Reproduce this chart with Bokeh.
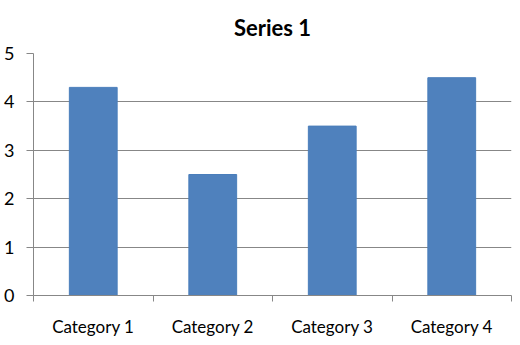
from bokeh.plotting import figure
from bokeh.models import FixedTicker, Range1d, ColumnDataSource
from bokeh.embed import file_html
from bokeh.resources import INLINE

categories = ["Category 1", "Category 2", "Category 3", "Category 4"]
values = [4.3, 2.5, 3.5, 4.5]
y_ticks = [0, 1, 2, 3, 4, 5]
title_text = "Series 1"

xs = [i + 0.5 for i in range(len(categories))]
src = ColumnDataSource(dict(x=xs, top=values, cat=categories))

p = figure(width=520, height=345, output_backend="svg", toolbar_location=None,
           x_range=Range1d(0, len(categories)), y_range=Range1d(0, 5),
           min_border_left=33, min_border_right=9, min_border_top=53, min_border_bottom=50)
p.background_fill_color = "white"
p.border_fill_color = "white"
p.outline_line_color = None

p.title.text = title_text
p.title.align = "center"
p.title.vertical_align = "top"
p.title.text_font = "Lato"
p.title.text_font_style = "bold"
p.title.text_font_size = "22px"
p.title.text_color = "black"
p.title.standoff = 22

p.vbar(x="x", top="top", width=0.4, bottom=0, source=src,
       fill_color="#4F81BD", line_color="#4A7EBB", line_width=1)

gray = "#878787"
xa = p.xaxis[0]
xa.ticker = FixedTicker(ticks=xs, minor_ticks=list(range(len(categories) + 1)))
xa.major_label_overrides = {x: c for x, c in zip(xs, categories)}
xa.major_tick_line_color = None
xa.minor_tick_line_color = gray
xa.minor_tick_out = 6
xa.minor_tick_in = 0
xa.axis_line_color = gray
xa.major_label_text_font = "Lato"
xa.major_label_text_font_size = "17px"
xa.major_label_text_color = "black"
xa.major_label_standoff = 14

ya = p.yaxis[0]
ya.ticker = FixedTicker(ticks=y_ticks)
ya.major_tick_line_color = gray
ya.major_tick_out = 7
ya.major_tick_in = 0
ya.minor_tick_line_color = None
ya.axis_line_color = gray
ya.major_label_text_font = "Lato"
ya.major_label_text_font_size = "18px"
ya.major_label_text_color = "black"
ya.major_label_standoff = 12

p.xgrid.visible = False
p.ygrid.ticker = FixedTicker(ticks=y_ticks)
p.ygrid.grid_line_color = gray
p.ygrid.grid_line_width = 1

open("out.html", "w").write(file_html(p, INLINE))
